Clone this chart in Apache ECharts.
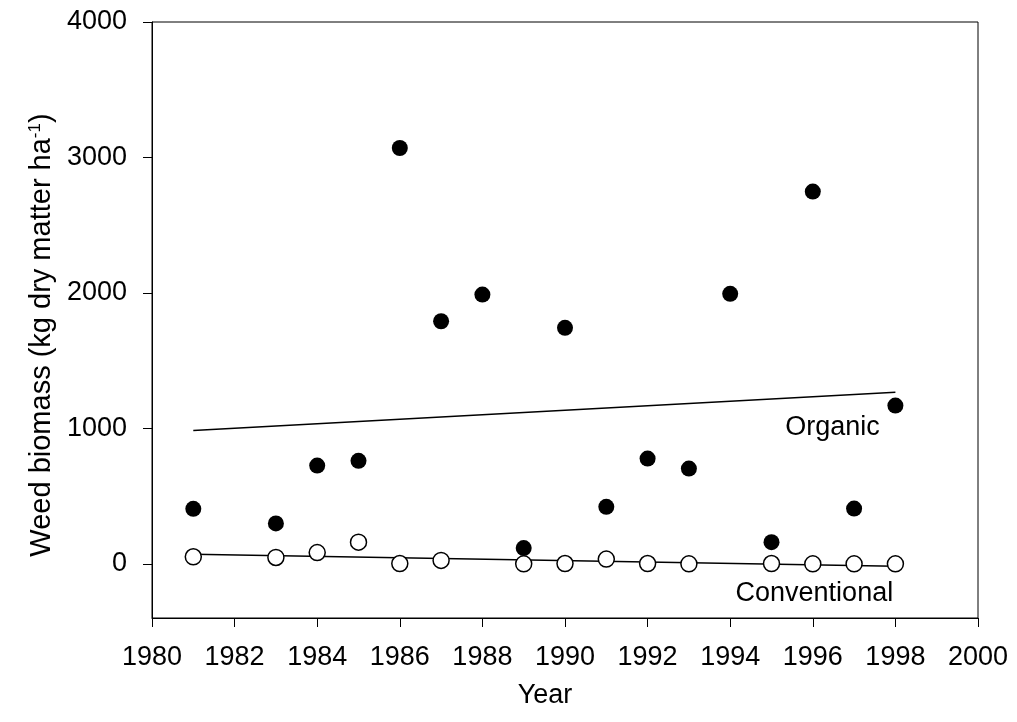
<!DOCTYPE html>
<html>
<head>
<meta charset="utf-8">
<script src="https://cdn.jsdelivr.net/npm/echarts@6/dist/echarts.min.js"></script>
<style>
html,body{margin:0;padding:0;background:#fff;}
#chart{width:1017px;height:722px;}
</style>
</head>
<body>
<div id="chart"></div>
<script>
// Data
const organicYears = [1981, 1983, 1984, 1985, 1986, 1987, 1988, 1989, 1990, 1991, 1992, 1993, 1994, 1995, 1996, 1997, 1998];
const organicValues = [406, 298, 725, 760, 3070, 1791, 1988, 116, 1742, 421, 777, 703, 1993, 160, 2748, 408, 1168];
const conventionalYears = [1981, 1983, 1984, 1985, 1986, 1987, 1989, 1990, 1991, 1992, 1993, 1995, 1996, 1997, 1998];
const conventionalValues = [52, 47, 83, 160, 2, 25, 0, 2, 35, 2, 0, 2, 0, 0, 0];
const fitYears = [1981, 1998];
const organicFit = [984, 1267];
const conventionalFit = [70, -18];
const yTicks = [0, 1000, 2000, 3000, 4000];
const xTitle = 'Year';
const organicLabel = 'Organic';
const conventionalLabel = 'Conventional';
const organicLabelPos = [1996.49, 1000];
const conventionalLabelPos = [1996.05, -222];

const zip = (xs, ys) => xs.map((x, i) => [x, ys[i]]);
const FONT = 'Liberation Sans, Arial, sans-serif';
const FS = 27;

const textLabel = (txt) => ({
  show: true, position: [0, 0], align: 'center', verticalAlign: 'middle',
  formatter: txt, fontFamily: FONT, fontSize: FS, color: '#000', opacity: 1
});

const chart = echarts.init(document.getElementById('chart'), null, {renderer: 'canvas'});
chart.setOption({
  animation: false,
  backgroundColor: '#fff',
  grid: {left: 152, right: 39, top: 22, bottom: 104, show: true, borderColor: '#000', borderWidth: 1, containLabel: false},
  xAxis: {
    type: 'value', min: 1980, max: 2000, interval: 2,
    name: xTitle, nameLocation: 'middle', nameGap: 64, nameMoveOverlap: false,
    nameTextStyle: {fontFamily: FONT, fontSize: FS, color: '#000', padding: [0, 40, 0, 0]},
    axisLine: {show: true, onZero: false, lineStyle: {color: '#000', width: 1}},
    axisTick: {show: true, inside: false, length: 9, lineStyle: {color: '#000'}},
    axisLabel: {fontFamily: FONT, fontSize: FS, color: '#000', margin: 26, formatter: (v) => String(v)},
    splitLine: {show: false}
  },
  yAxis: {
    type: 'value', min: -400, max: 4000,
    name: '{a|Weed biomass (kg dry matter ha}{s|-1}{a|)}',
    nameLocation: 'middle', nameGap: 96, nameRotate: 90, nameMoveOverlap: false,
    nameTextStyle: {
      fontFamily: FONT, fontSize: 29, color: '#000', padding: [0, 30, 0, 0],
      rich: {
        a: {fontFamily: FONT, fontSize: 29, color: '#000'},
        s: {fontFamily: FONT, fontSize: 17, color: '#000', verticalAlign: 'top', padding: [0, 0, 10, 0]}
      }
    },
    axisLine: {show: true, onZero: false, lineStyle: {color: '#000', width: 1}},
    axisTick: {show: true, inside: false, length: 9, customValues: yTicks, lineStyle: {color: '#000'}},
    axisLabel: {fontFamily: FONT, fontSize: FS, color: '#000', margin: 25, customValues: yTicks, formatter: (v) => String(v)},
    splitLine: {show: false}
  },
  series: [
    {
      type: 'line', data: zip(fitYears, organicFit), symbol: 'none',
      lineStyle: {color: '#000', width: 1.5}, z: 2
    },
    {
      type: 'line', data: zip(fitYears, conventionalFit), symbol: 'none',
      lineStyle: {color: '#000', width: 1.5}, z: 2
    },
    {
      type: 'scatter', data: zip(conventionalYears, conventionalValues),
      symbol: 'circle', symbolSize: 16,
      itemStyle: {color: '#fff', borderColor: '#000', borderWidth: 1.5, opacity: 1}, z: 3
    },
    {
      type: 'scatter', data: zip(organicYears, organicValues),
      symbol: 'circle', symbolSize: 16,
      itemStyle: {color: '#000', opacity: 1}, z: 4
    },
    {
      type: 'scatter', data: [organicLabelPos], symbolSize: 1, silent: true,
      itemStyle: {opacity: 0},
      label: textLabel(organicLabel), z: 5
    },
    {
      type: 'scatter', data: [conventionalLabelPos], symbolSize: 1, silent: true,
      itemStyle: {opacity: 0},
      label: textLabel(conventionalLabel), z: 5
    }
  ]
});
</script>
</body>
</html>
